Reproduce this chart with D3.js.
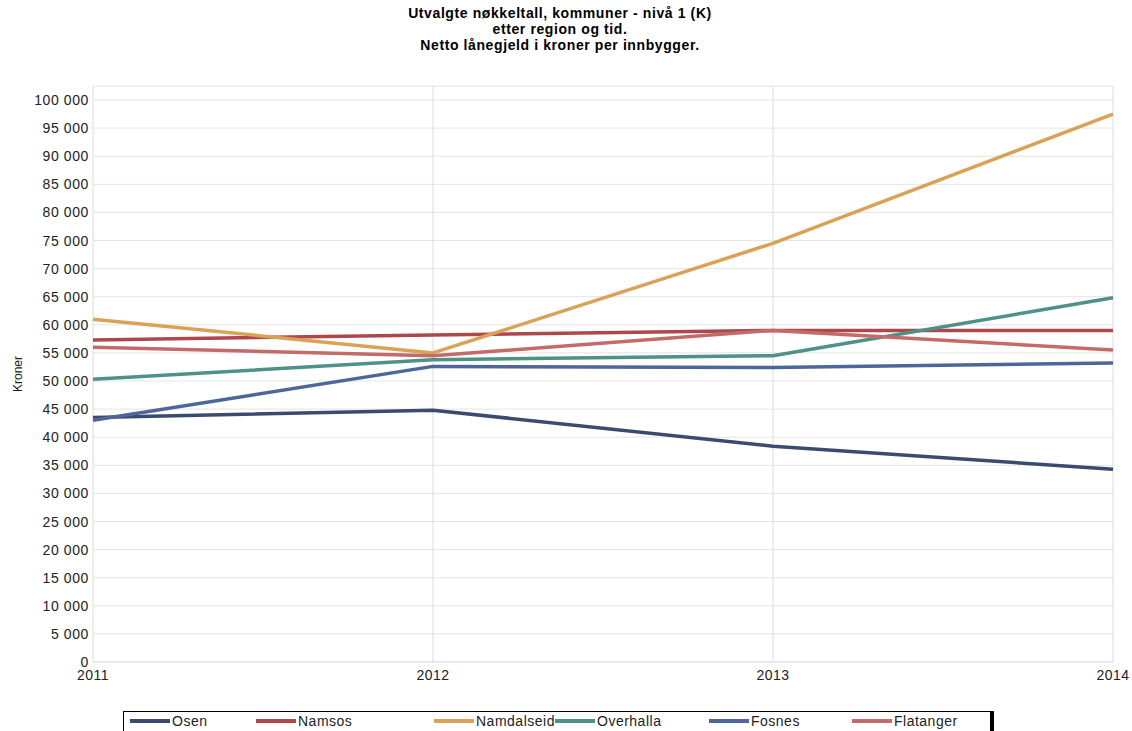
<!DOCTYPE html>
<html>
<head>
<meta charset="utf-8">
<script src="https://cdn.jsdelivr.net/npm/d3@7"></script>
<style>
  body { margin: 0; background: #fff; }
  svg text { font-family: "Liberation Sans", Arial, sans-serif; }
  .title { font-weight: bold; font-size: 14px; letter-spacing: 0.6px; }
</style>
</head>
<body>
<div id="chart"></div>
<script>
const years = ['2011', '2012', '2013', '2014'];
const regions = ['Osen', 'Namsos', 'Namdalseid', 'Overhalla', 'Fosnes', 'Flatanger'];
const colors = ['#3d4a70', '#ae474b', '#d9a257', '#4e9188', '#4e6699', '#c36b6a'];

const osen       = [43500, 44800, 38400, 34300];
const namsos     = [57300, 58200, 59000, 59000];
const namdalseid = [61000, 55000, 74500, 97500];
const overhalla  = [50300, 53800, 54500, 64800];
const fosnes     = [43000, 52600, 52400, 53200];
const flatanger  = [56000, 54500, 59000, 55500];
const values = [osen, namsos, namdalseid, overhalla, fosnes, flatanger];

const yTicks = d3.range(0, 100001, 5000);
const titleLines = [
  'Utvalgte nøkkeltall, kommuner - nivå 1 (K)',
  'etter region og tid.',
  'Netto lånegjeld i kroner per innbygger.'
];

const W = 1132, H = 731;
const plot = { left: 93, right: 1113, top: 86, bottom: 662 };

const svg = d3.select('#chart').append('svg')
  .attr('width', W).attr('height', H);

const x = d3.scalePoint().domain(years).range([plot.left, plot.right]);
const y = d3.scaleLinear().domain([0, 100000]).range([plot.bottom, 100]);

const fmt = v => d3.format(',')(v).replace(/,/g, ' ');

// grid
const grid = svg.append('g');
grid.selectAll('line.h')
  .data(yTicks.filter(d => d > 0))
  .join('line')
  .attr('x1', plot.left).attr('x2', plot.right)
  .attr('y1', d => y(d)).attr('y2', d => y(d))
  .attr('stroke', '#e4e4e4');
grid.selectAll('line.v')
  .data(years)
  .join('line')
  .attr('x1', d => x(d)).attr('x2', d => x(d))
  .attr('y1', plot.top).attr('y2', plot.bottom)
  .attr('stroke', '#dcdcdc');
grid.append('line')
  .attr('x1', plot.left).attr('x2', plot.right)
  .attr('y1', plot.top).attr('y2', plot.top)
  .attr('stroke', '#e4e4e4');
grid.append('line')
  .attr('x1', plot.left).attr('x2', plot.right)
  .attr('y1', plot.bottom).attr('y2', plot.bottom)
  .attr('stroke', '#d4d4d4');

// y labels
svg.append('g').selectAll('text')
  .data(yTicks)
  .join('text')
  .attr('x', plot.left - 4)
  .attr('y', d => y(d) + 5)
  .attr('text-anchor', 'end')
  .attr('font-size', '14px')
  .attr('letter-spacing', '0.6px')
  .attr('fill', '#222')
  .text(d => fmt(d));

// x labels
svg.append('g').selectAll('text')
  .data(years)
  .join('text')
  .attr('x', d => x(d))
  .attr('y', 680)
  .attr('text-anchor', 'middle')
  .attr('font-size', '14px')
  .attr('letter-spacing', '0.5px')
  .attr('fill', '#222')
  .text(d => d);

// y title
svg.append('text')
  .attr('transform', `translate(22,${(plot.top + plot.bottom) / 2}) rotate(-90)`)
  .attr('text-anchor', 'middle')
  .attr('font-size', '12px')
  .attr('fill', '#222')
  .text('Kroner');

// title
svg.append('g').selectAll('text')
  .data(titleLines)
  .join('text')
  .attr('class', 'title')
  .attr('x', 560)
  .attr('y', (d, i) => 18 + i * 16)
  .attr('text-anchor', 'middle')
  .attr('fill', '#000')
  .text(d => d);

// lines
const line = d3.line().x((d, i) => x(years[i])).y(d => y(d));
svg.append('g').selectAll('path')
  .data(values)
  .join('path')
  .attr('fill', 'none')
  .attr('stroke', (d, i) => colors[i])
  .attr('stroke-width', 3.5)
  .attr('stroke-linejoin', 'round')
  .attr('d', line);

// legend
const legendX = [130, 256, 434, 555, 709, 852];
const lg = svg.append('g');
lg.append('rect')
  .attr('x', 123.5).attr('y', 711.5)
  .attr('width', 868).attr('height', 30)
  .attr('fill', '#fff').attr('stroke', '#000');
lg.append('rect')
  .attr('x', 990).attr('y', 711)
  .attr('width', 4).attr('height', 20)
  .attr('fill', '#000');
const items = lg.selectAll('g.item')
  .data(regions)
  .join('g')
  .attr('transform', (d, i) => `translate(${legendX[i]},0)`);
items.append('line')
  .attr('x1', 0).attr('x2', 40)
  .attr('y1', 721).attr('y2', 721)
  .attr('stroke', (d, i) => colors[i])
  .attr('stroke-width', 4);
items.append('text')
  .attr('x', 42).attr('y', 726)
  .attr('font-size', '14px')
  .attr('letter-spacing', '0.5px')
  .attr('fill', '#222')
  .text(d => d);
</script>
</body>
</html>
